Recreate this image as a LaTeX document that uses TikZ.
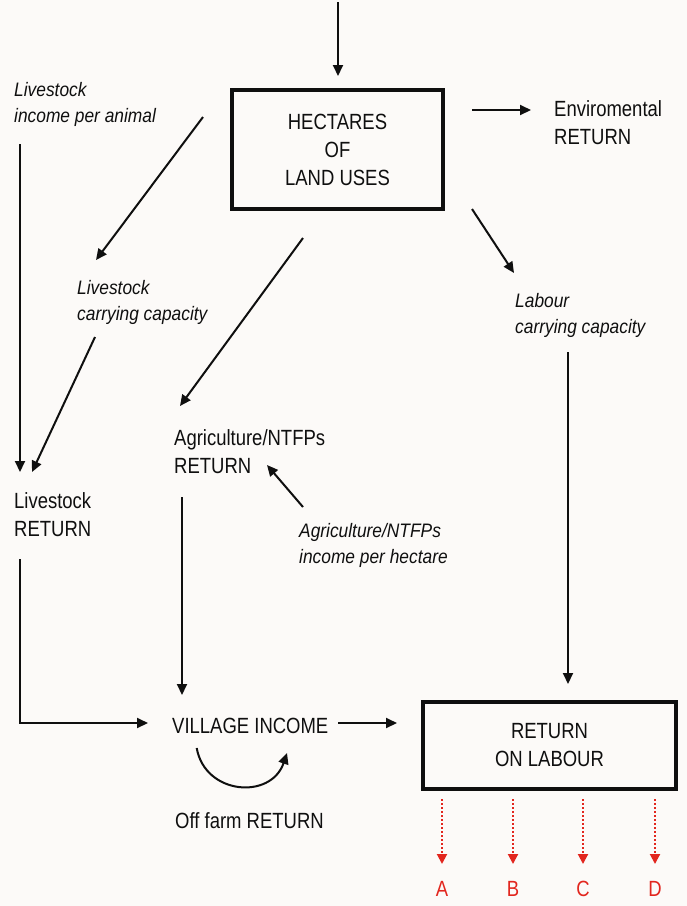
\documentclass[tikz,border=0pt]{standalone}
\usepackage{fontspec}
\setmainfont{Liberation Sans}[FakeStretch=0.84]
\newfontfamily\itfam{Liberation Sans}[FakeStretch=0.89]
\usetikzlibrary{arrows.meta}
\definecolor{bg}{RGB}{252,250,248}
\definecolor{ink}{RGB}{15,15,15}
\definecolor{redc}{RGB}{226,38,30}
\newcommand\txtlines[1]{\begin{tabular}[t]{@{}l@{}}#1\end{tabular}}
\begin{document}
\begin{tikzpicture}[x=1pt,y=-1pt,
  lbl/.style={anchor=base west,inner sep=0pt,text=ink,font=\fontsize{22}{28}\selectfont},
  ilbl/.style={anchor=base west,inner sep=0pt,text=ink,font=\fontsize{19.5}{26}\itfam\itshape},
  boxnode/.style={draw=ink,line width=3.2pt,inner sep=0pt,align=center,text=ink,font=\fontsize{22}{28}\selectfont},
  arr/.style={draw=ink,line width=2pt,-{Triangle[length=11pt,width=10pt]}},
  redarr/.style={draw=redc,line width=2pt,dotted,-{Triangle[length=10pt,width=10pt]}},
  letter/.style={anchor=base,inner sep=0pt,text=redc,font=\fontsize{22}{28}\selectfont}]
\fill[bg] (0,0) rectangle (687,906);
\useasboundingbox (0,0) rectangle (687,906);

% boxes
\node[boxnode,minimum width=211pt,minimum height=119pt] (hect) at (337.5,149.5) {HECTARES\\OF\\LAND USES};
\node[boxnode,minimum width=253pt,minimum height=87pt] (rol) at (549.5,745.5) {RETURN\\ON LABOUR};

% text nodes
\node[ilbl] (incanimal) at (14,96) {\txtlines{Livestock\\income per animal}};
\node[lbl] (env) at (554,116) {\txtlines{Enviromental\\RETURN}};
\node[ilbl] (lcc) at (77,294) {\txtlines{Livestock\\carrying capacity}};
\node[ilbl] (labour) at (515,307) {\txtlines{Labour\\carrying capacity}};
\node[lbl] (ag) at (174,445) {\txtlines{Agriculture/NTFPs\\RETURN}};
\node[lbl] (lret) at (14,508) {\txtlines{Livestock\\RETURN}};
\node[ilbl] (aginc) at (299,537) {\txtlines{Agriculture/NTFPs\\income per hectare}};
\node[lbl] (village) at (172,733) {VILLAGE INCOME};
\node[lbl] (offfarm) at (175,828) {Off farm RETURN};
\node[letter] (A) at (442,896) {A};
\node[letter] (B) at (513,896) {B};
\node[letter] (C) at (583,896) {C};
\node[letter] (D) at (655,896) {D};

% connector end points
\coordinate (top) at (338,2);
\coordinate (hectIn) at (338,76);
\coordinate (hectE) at (472,110);
\coordinate (envIn) at (531,110);
\coordinate (hectW) at (203,117);
\coordinate (lccIn) at (96,260);
\coordinate (incOut) at (20,144);
\coordinate (lretIn1) at (20,472);
\coordinate (lccOut) at (95,337);
\coordinate (lretIn2) at (32,472);
\coordinate (hectS) at (303,238);
\coordinate (agIn) at (180,406);
\coordinate (hectSE) at (472,209);
\coordinate (labIn) at (514,273);
\coordinate (labOut) at (568,352);
\coordinate (rolIn) at (568,684);
\coordinate (agincOut) at (303,507);
\coordinate (agIn2) at (267,465);
\coordinate (agOut) at (182,497);
\coordinate (vilIn1) at (182,695);
\coordinate (lretOut) at (20,559);
\coordinate (vilIn2) at (148,723);
\coordinate (vilOut) at (338,723);
\coordinate (rolIn2) at (397,723);
\coordinate (offS) at (196.7,748);
\coordinate (offE) at (287,753);

\draw[arr] (top) -- (hectIn);
\draw[arr] (hectE) -- (envIn);
\draw[arr] (hectW) -- (lccIn);
\draw[arr] (incOut) -- (lretIn1);
\draw[arr] (lccOut) -- (lretIn2);
\draw[arr] (hectS) -- (agIn);
\draw[arr] (hectSE) -- (labIn);
\draw[arr] (labOut) -- (rolIn);
\draw[arr] (agincOut) -- (agIn2);
\draw[arr] (agOut) -- (vilIn1);
\draw[arr] (lretOut) |- (vilIn2);
\draw[arr] (vilOut) -- (rolIn2);
\draw[arr] (offS) .. controls (205,795) and (271,800) .. (offE);

\foreach \n/\x in {A/442,B/513,C/583,D/655}{
  \coordinate (r\n) at (\x,799);
  \coordinate (e\n) at (\x,864);
  \draw[redarr] (r\n) -- (e\n);
}
\end{tikzpicture}
\end{document}
